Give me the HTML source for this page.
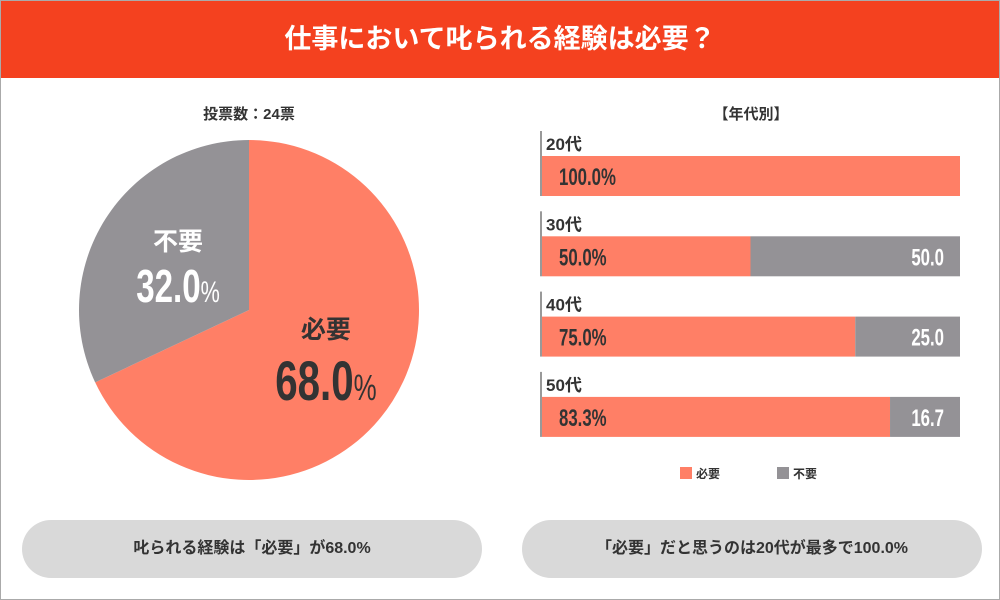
<!DOCTYPE html>
<html><head><meta charset="utf-8"><style>
body{margin:0;width:1000px;height:600px;overflow:hidden;background:#fff;font-family:"Liberation Sans","Noto Sans CJK JP",sans-serif;}
#frame{position:absolute;left:0;top:0;width:998px;height:598px;border:1px solid #aaa;}
#hdr{position:absolute;left:1px;top:1px;width:998px;height:77px;background:#f4411f;color:#fff;font-size:27px;font-weight:bold;text-align:center;line-height:77px;}
.pill{position:absolute;top:520px;height:58px;width:460px;border-radius:29px;background:#d9d9d9;color:#333;font-size:16px;font-weight:bold;text-align:center;line-height:58px;}
svg{position:absolute;left:0;top:0;}
</style></head><body>
<div id="frame"></div>
<div id="hdr">仕事において叱られる経験は必要？</div>
<svg width="1000" height="600" id="chart"></svg>
<div class="pill" style="left:22px">叱られる経験は「必要」が68.0%</div>
<div class="pill" style="left:522px">「必要」だと思うのは20代が最多で100.0%</div>
<script>
const pieLabels=["必要","不要"];
const pieValues=[68.0,32.0];
const ageGroups=["20代","30代","40代","50代"];
const needValues=[100.0,50.0,75.0,83.3];
const noNeedValues=[0,50.0,25.0,16.7];
const NS="http://www.w3.org/2000/svg";
const svg=document.getElementById('chart');
function mk(t,a,txt){const e=document.createElementNS(NS,t);for(const k in a)e.setAttribute(k,a[k]);if(txt!==undefined)e.textContent=txt;svg.appendChild(e);return e;}
const FONT='"Liberation Sans","Noto Sans CJK JP",sans-serif';
const COLORS=["#ff7f66","#949296"];
let t=mk('text',{x:249,y:119,'text-anchor':'middle','font-size':15,'font-weight':'bold',fill:'#333','font-family':FONT},'投票数：24票');


const cx=249,cy=310,r=170;
const total=pieValues.reduce((a,b)=>a+b,0);
let ang=0;
pieValues.forEach((v,i)=>{
 const a0=ang,a1=ang+v/total*2*Math.PI;ang=a1;
 const p=(a)=>[cx+r*Math.sin(a),cy-r*Math.cos(a)];
 const [x0,y0]=p(a0),[x1,y1]=p(a1);
 const s=mk('path',{d:`M${cx},${cy}L${x0},${y0}A${r},${r} 0 ${a1-a0>Math.PI?1:0} 1 ${x1},${y1}Z`,fill:COLORS[i]});
 
 
 const mid=(a0+a1)/2, lr=r*0.55;
 const lx=cx+lr*Math.sin(mid)+(i==0?-2:8), ly=cy-lr*Math.cos(mid)+(i==0?-22:-10);
 const col=i==0?'#333':'#fff';
 const l1=mk('text',{x:lx,y:ly,'text-anchor':'middle','font-size':25,'font-weight':'bold',fill:col,'font-family':FONT},pieLabels[i]);
 
 
 const l2=mk('text',{x:lx,y:ly+(i==0?62:52),'text-anchor':'middle','font-size':i==0?56:46,'font-weight':'bold',fill:col,'font-family':FONT,transform:`translate(${lx},0) scale(0.72,1) translate(${-lx},0)`});
 l2.textContent=pieValues[i].toFixed(1);
 const pc=document.createElementNS(NS,'tspan');pc.setAttribute('font-size',i==0?36:30);pc.setAttribute('font-weight','normal');pc.textContent='%';l2.appendChild(pc);
 
 
});
t=mk('text',{x:751,y:119,'text-anchor':'middle','font-size':15,'font-weight':'bold',fill:'#333','font-family':FONT},'【年代別】');


const bx=541,bw=419,bh=40;
const xs=v=>bx+v/100*bw;
ageGroups.forEach((g,i)=>{
 const by=156+i*80.3;
 const ax=mk('line',{x1:bx,y1:by-25,x2:bx,y2:by+bh,stroke:'#999','stroke-width':2});
 
 
 const gl=mk('text',{x:bx+5,y:by-6,'font-size':17,'font-weight':'bold',fill:'#333','font-family':FONT},g);
 
 
 const b1=mk('rect',{x:bx+1,y:by,width:xs(needValues[i])-bx-1,height:bh,fill:COLORS[0]});
 
 
 const bl=mk('text',{x:bx+18,y:by+29,'font-size':24,'font-weight':'bold',fill:'#333','font-family':FONT,transform:`translate(${bx+18},0) scale(0.7,1) translate(${-bx-18},0)`},needValues[i].toFixed(1)+'%');
 
 
 if(noNeedValues[i]>0){
  const b2=mk('rect',{x:xs(needValues[i]),y:by,width:xs(noNeedValues[i])-bx,height:bh,fill:COLORS[1]});
  
  
  const vl=mk('text',{x:bx+bw-16,y:by+29,'text-anchor':'end','font-size':24,'font-weight':'bold',fill:'#fff','font-family':FONT,transform:`translate(${bx+bw-16},0) scale(0.7,1) translate(${-bx-bw+16},0)`},noNeedValues[i].toFixed(1));
  
  
 }
});
pieLabels.forEach((l,i)=>{
 const lx=680+i*97;
 const sq=mk('rect',{x:lx,y:467,width:12,height:12,fill:COLORS[i]});
 
 
 const lt=mk('text',{x:lx+16,y:478,'font-size':12,'font-weight':'bold',fill:'#333','font-family':FONT},l);
 
 
});
</script>
</body></html>
